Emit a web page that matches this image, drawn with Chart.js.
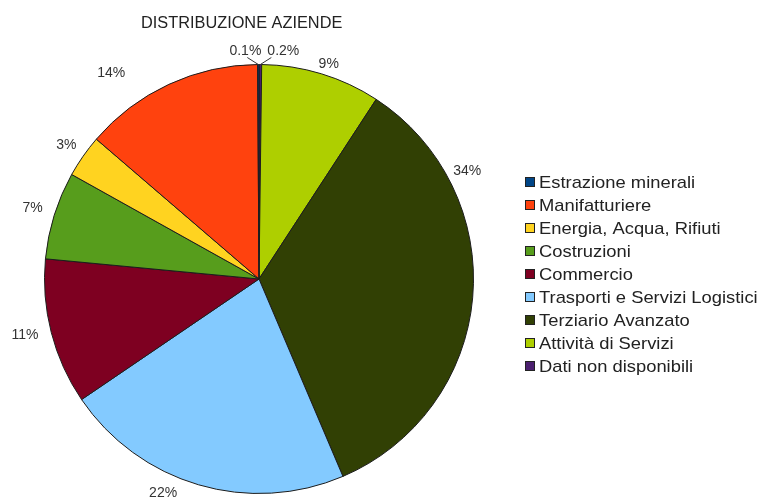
<!DOCTYPE html>
<html>
<head>
<meta charset="utf-8">
<title>Distribuzione aziende</title>
<script src="https://cdn.jsdelivr.net/npm/chart.js@4.4.1/dist/chart.umd.min.js"></script>
<style>
  html, body { margin: 0; padding: 0; background: #fff; }
  canvas { display: block; }
</style>
</head>
<body>
<canvas id="torta" width="764" height="497"></canvas>
<script>
/* ---- dati ---- */
var settori = ["Estrazione minerali", "Manifatturiere", "Energia, Acqua, Rifiuti", "Costruzioni",
               "Commercio", "Trasporti e Servizi Logistici", "Terziario Avanzato",
               "Attività di Servizi", "Dati non disponibili"];
var percentuali = [0.1, 13.6, 3.2, 6.6, 11.0, 21.9, 34.4, 9.0, 0.2];
var colori = ["#004586", "#ff420e", "#ffd320", "#579d1c", "#7e0021", "#83caff", "#314004", "#aecf00", "#4b1f6f"];
var titolo = "DISTRIBUZIONE AZIENDE";

// la torta gira in senso antiorario, quindi inverto l'ordine per Chart.js
var etichetteGiro = settori.slice().reverse();
var valoriGiro = percentuali.slice().reverse();
var coloriGiro = colori.slice().reverse();

// piccoli spostamenti delle etichette come nell'originale: [gradi, distanza extra]
var spostaEtichette = {
  "Terziario Avanzato": [-35, 9],
  "Trasporti e Servizi Logistici": [5, -7],
  "Manifatturiere": [-11, 21]
};

function testoLargo(ctx, t, x, y, sx) {
  ctx.save();
  ctx.translate(x, y);
  ctx.scale(sx, 1);
  ctx.fillText(t, 0, 0);
  ctx.restore();
}

/* ---- titolo, etichette e legenda disegnati a mano ---- */
var extra = {
  id: 'extra',
  afterDraw: function (chart) {
    var ctx = chart.ctx;
    var meta = chart.getDatasetMeta(0);

    // titolo
    ctx.save();
    ctx.fillStyle = '#222';
    ctx.font = '16px "Liberation Sans", Arial, sans-serif';
    ctx.textAlign = 'left';
    ctx.textBaseline = 'middle';
    testoLargo(ctx, titolo, 141, 24, 1.02);

    // percentuali sulle fette
    ctx.font = '14px "Liberation Sans", Arial, sans-serif';
    ctx.fillStyle = '#333';
    ctx.strokeStyle = '#333';
    ctx.lineWidth = 1;
    meta.data.forEach(function (arc, i) {
      var v = valoriGiro[i];
      var testo = (v < 1 ? v.toFixed(1) : Math.round(v)) + '%';
      var mid = (arc.startAngle + arc.endAngle) / 2;
      var r = arc.outerRadius;
      if (v < 1) {
        // fetta piccolissima: linea guida
        var c0 = Math.cos(mid), s0 = Math.sin(mid);
        var x0 = arc.x + c0 * r, y0 = arc.y + s0 * r;
        var dir = c0 >= 0 ? 1 : -1;
        var x1 = x0 + dir * 11, y1 = y0 - 7;
        ctx.beginPath();
        ctx.moveTo(x0, y0);
        ctx.lineTo(x1, y1);
        ctx.stroke();
        ctx.textBaseline = 'bottom';
        if (dir > 0) {
          ctx.textAlign = 'left';
          ctx.fillText(testo, x1 - 4, y1 + 1);
        } else {
          ctx.textAlign = 'right';
          ctx.fillText(testo, x1 + 14, y1 + 1);
        }
        return;
      }
      var sp = spostaEtichette[etichetteGiro[i]] || [0, 0];
      var a = mid + (2 + sp[0]) * Math.PI / 180;
      var d = r + 19 + sp[1];
      var x = arc.x - 6 + Math.cos(a) * d;
      var y = arc.y + 6 + Math.sin(a) * d;
      ctx.textAlign = 'center';
      ctx.textBaseline = 'middle';
      ctx.fillText(testo, x, y);
    });

    // legenda
    ctx.font = '17px "Liberation Sans", Arial, sans-serif';
    ctx.textAlign = 'left';
    ctx.textBaseline = 'middle';
    settori.forEach(function (nome, i) {
      var y = 182 + i * 23;
      ctx.fillStyle = colori[i];
      ctx.fillRect(525, y - 5, 10, 10);
      ctx.strokeStyle = '#222';
      ctx.strokeRect(525.5, y - 4.5, 9, 9);
      ctx.fillStyle = '#222';
      testoLargo(ctx, nome, 539, y + 1, 1.08);
    });
    ctx.restore();
  }
};

var ctx = document.getElementById('torta').getContext('2d');
var torta = new Chart(ctx, {
  type: 'pie',
  data: {
    labels: etichetteGiro,
    datasets: [{
      data: valoriGiro,
      backgroundColor: coloriGiro,
      borderColor: '#1c1c1c',
      borderWidth: 1
    }]
  },
  options: {
    responsive: false,
    animation: false,
    devicePixelRatio: 1,
    layout: { padding: { left: 44, right: 290, top: 64, bottom: 3 } },
    plugins: {
      legend: { display: false },
      tooltip: { enabled: false },
      title: { display: false }
    }
  },
  plugins: [extra]
});
</script>
</body>
</html>
